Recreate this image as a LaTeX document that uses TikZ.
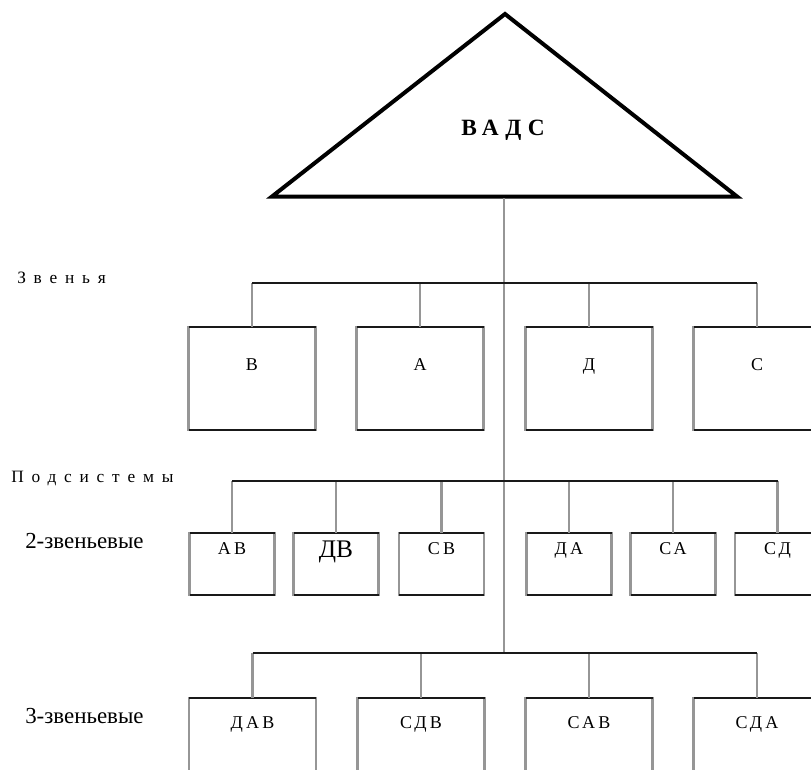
\documentclass[tikz,border=0pt]{standalone}
\usepackage{fontspec}
\setmainfont{Liberation Serif}
\newfontfamily\spcfont[LetterSpace=45]{Liberation Serif}
\newfontfamily\boxfont[LetterSpace=18]{Liberation Serif}
\newfontfamily\titfont[LetterSpace=28]{Liberation Serif}
\definecolor{lgray}{RGB}{150,150,150}
\definecolor{dline}{RGB}{25,25,25}
\tikzset{
  conn/.style={draw=lgray, line width=1.8pt},
  bus/.style={draw=dline, line width=1.2pt},
  edgeline/.style={draw=dline, line width=1.2pt},
  bigbox/.style={draw=lgray, line width=1.8pt, outer sep=0pt, inner sep=0pt,
     anchor=north, minimum width=95.25pt, minimum height=77.25pt},
  smallbox/.style={draw=lgray, line width=1.8pt, outer sep=0pt, inner sep=0pt,
     anchor=north, minimum width=63.75pt, minimum height=46.5pt},
  lowbox/.style={draw=lgray, line width=1.8pt, outer sep=0pt, inner sep=0pt,
     anchor=north, minimum width=95.25pt, minimum height=63pt},
  btxt/.style={anchor=base, inner sep=0pt, font=\boxfont\fontsize{13.5pt}{15pt}\selectfont},
  sidelbl/.style={anchor=base west, inner sep=0pt, font=\spcfont\fontsize{13pt}{15pt}\selectfont},
  levlbl/.style={anchor=base west, inner sep=0pt, font=\fontsize{17.2pt}{19pt}\selectfont},
}
\begin{document}
\begin{tikzpicture}[x=0.75pt,y=-0.75pt]
\clip (0,0) rectangle (811,769);
\fill[white] (0,0) rectangle (811,769);

% triangle
\coordinate (apex) at (505,14);
\coordinate (bl) at (272,196.5);
\coordinate (br) at (737,196.5);
\coordinate (tribase) at (504,198);
\draw[line width=3pt, black] (apex) -- (br) -- (bl) -- cycle;
\node[anchor=base, inner sep=0pt, font=\titfont\bfseries\fontsize{17.5pt}{19pt}\selectfont] (vads) at (503,135) {ВАДС};

% bus coordinates
\coordinate (bus1) at (504,283);
\coordinate (bus2) at (504,481);
\coordinate (bus3) at (504,653);

% row 1
\node[bigbox] (b1) at (252,327) {};
\node[bigbox] (b2) at (420,327) {};
\node[bigbox] (b3) at (589,327) {};
\node[bigbox] (b4) at (757,327) {};
% row 2
\node[smallbox] (s1) at (232,533) {};
\node[smallbox] (s2) at (336,533) {};
\node[smallbox] (s3) at (441.5,533) {};
\node[smallbox] (s4) at (569,533) {};
\node[smallbox] (s5) at (673,533) {};
\node[smallbox] (s6) at (777.5,533) {};
% row 3
\node[lowbox] (c1) at (252.5,698) {};
\node[lowbox] (c2) at (421,698) {};
\node[lowbox] (c3) at (589,698) {};
\node[lowbox] (c4) at (757,698) {};

\foreach \n in {b1,b2,b3,b4,s1,s2,s3,s4,s5,s6,c1,c2,c3,c4}{
  \draw[edgeline] (\n.north west) -- (\n.north east);
  \draw[edgeline] (\n.south west) -- (\n.south east);
}

% trunk
\draw[conn] (tribase) -- (bus3);

% connectors row 1
\foreach \n in {b1,b2,b3,b4}{ \draw[conn] (\n.north |- bus1) -- (\n.north); }
\draw[bus] (b1.north |- bus1) -- (b4.north |- bus1);
% connectors row 2
\foreach \n in {s1,s2,s3,s4,s5,s6}{ \draw[conn] (\n.north |- bus2) -- (\n.north); }
\draw[bus] (s1.north |- bus2) -- (s6.north |- bus2);
% connectors row 3
\foreach \n in {c1,c2,c3,c4}{ \draw[conn] (\n.north |- bus3) -- (\n.north); }
\draw[bus, line width=1.6pt] (c1.north |- bus3) -- (c4.north |- bus3);

% box texts
\node[btxt] (tb1) at (b1.center |- 0,370) {В};
\node[btxt] (tb2) at (b2.center |- 0,370) {А};
\node[btxt] (tb3) at (b3.center |- 0,370) {Д};
\node[btxt] (tb4) at (b4.center |- 0,370) {С};

\node[btxt] (ts1) at (s1.center |- 0,554) {АВ};
\node[anchor=base, inner sep=0pt, font=\fontsize{19pt}{21pt}\selectfont] (ts2) at (s2.center |- 0,557) {ДВ};
\node[btxt] (ts3) at (s3.center |- 0,554) {СВ};
\node[btxt] (ts4) at (s4.center |- 0,554) {ДА};
\node[btxt] (ts5) at (s5.center |- 0,554) {СА};
\node[btxt] (ts6) at (s6.center |- 0,554) {СД};

\node[btxt] (tc1) at (c1.center |- 0,728) {ДАВ};
\node[btxt] (tc2) at (c2.center |- 0,728) {СДВ};
\node[btxt] (tc3) at (c3.center |- 0,728) {САВ};
\node[btxt] (tc4) at (c4.center |- 0,728) {СДА};

% side labels
\node[sidelbl] (zv) at (17,283) {Звенья};
\node[sidelbl] (ps) at (11,482) {Подсистемы};
\node[levlbl] (l2) at (25,548) {2-звеньевые};
\node[levlbl] (l3) at (25,723) {3-звеньевые};
\end{tikzpicture}
\end{document}
